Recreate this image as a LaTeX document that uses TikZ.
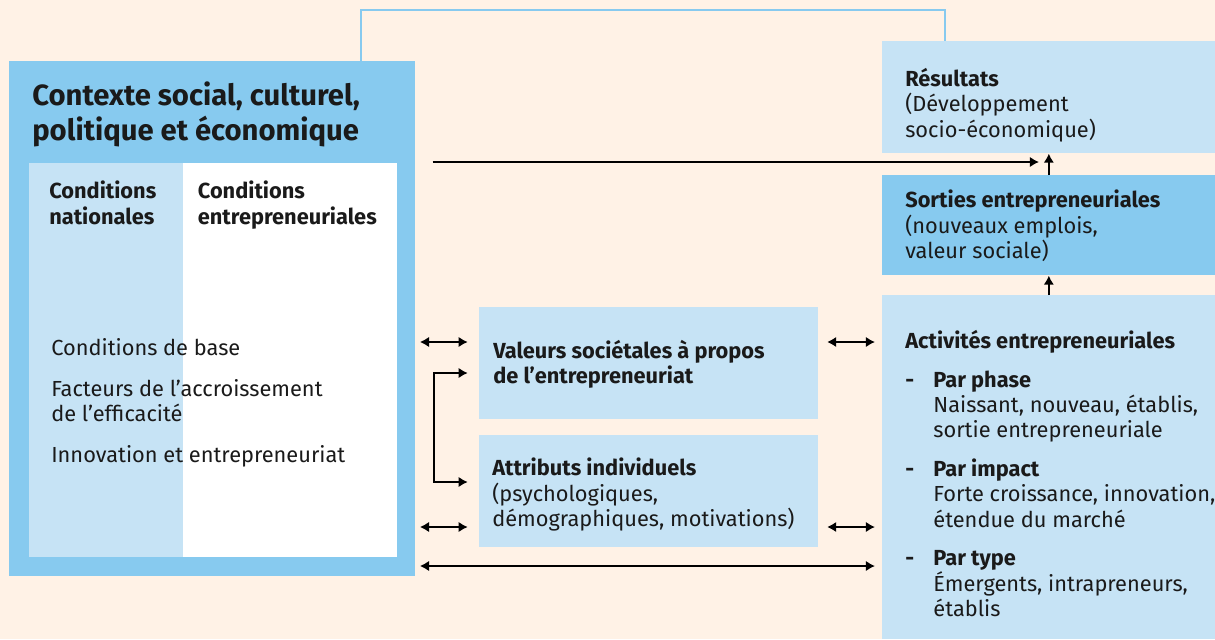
\documentclass[tikz,border=0pt]{standalone}
\usepackage{fontspec}
\setmainfont{Fira Sans}
\usepackage{tikz}
\usetikzlibrary{arrows.meta, positioning, calc}
\definecolor{cream}{HTML}{FFF2E6}
\definecolor{skyblue}{HTML}{87CAEF}
\definecolor{paleblue}{HTML}{C6E3F5}
\definecolor{ink}{HTML}{1A1A1A}

\begin{document}
\begin{tikzpicture}[x=0.025cm, y=-0.025cm, font=\fontsize{15.5}{18}\selectfont, text=ink]
    % Styles
    \tikzstyle{box} = [rectangle, inner sep=0pt, anchor=north west]
    \tikzstyle{pale} = [box, fill=paleblue]
    \tikzstyle{sky} = [box, fill=skyblue]
    \tikzstyle{txt} = [align=left, inner sep=0pt, anchor=north west]
    \tikzstyle{dbl} = [{Latex[length=6.5pt,width=7.5pt]}-{Latex[length=6.5pt,width=7.5pt]}, line width=1.4pt]
    \tikzstyle{sgl} = [-{Latex[length=6.5pt,width=7.5pt]}, line width=1.4pt]
    \tikzstyle{feedback} = [draw=skyblue, line width=1.6pt]

    \useasboundingbox (0,0) rectangle (1215,639);
    \fill[cream] (0,0) rectangle (1215,639);

    % Context block
    \node[sky, minimum width=10.15cm, minimum height=12.875cm] at (9,61) (ctx) {};
    \node[box, fill=white, minimum width=9.2cm, minimum height=9.85cm] at (29,163) (cond) {};
    \node[pale, minimum width=3.85cm, minimum height=9.85cm] at (29,163) (natcol) {};
    \node[txt, font=\fontsize{20.8}{25}\selectfont\bfseries, below right=0.52cm and 0.575cm of ctx.north west] (title)
        {Contexte social, culturel,\\politique et économique};
    \node[txt, font=\fontsize{15.5}{18}\selectfont\bfseries, below right=0.45cm and 0.5cm of cond.north west] (nat)
        {Conditions\\nationales};
    \node[txt, font=\fontsize{15.5}{18}\selectfont\bfseries, below right=0.45cm and 0.35cm of natcol.north east] (ent)
        {Conditions\\entrepreneuriales};
    \node[txt, below right=4.38cm and 0.55cm of cond.north west] (list)
        {Conditions de base\\[11pt]
         Facteurs de l’accroissement\\de l’efficacité\\[11pt]
         Innovation et entrepreneuriat};

    % Middle blocks
    \node[pale, minimum width=8.475cm, minimum height=2.8cm] at (479,307) (val) {};
    \node[pale, minimum width=8.475cm, minimum height=2.8cm] at (479,435) (att) {};
    \node[txt, below right=0.825cm and 0.35cm of val.north west] (valtxt)
        {\textbf{Valeurs sociétales à propos}\\\textbf{de l’entrepreneuriat}};
    \node[txt, below right=0.575cm and 0.325cm of att.north west] (atttxt)
        {\textbf{Attributs individuels}\\(psychologiques,\\démographiques, motivations)};

    % Right blocks
    \node[pale, minimum width=8.325cm, minimum height=2.8cm] at (882,41) (res) {};
    \node[sky, minimum width=8.325cm, minimum height=2.5cm] at (882,175) (sor) {};
    \node[pale, minimum width=8.325cm, minimum height=8.6cm] at (882,295) (act) {};
    \node[txt, below right=0.675cm and 0.575cm of res.north west] (restxt)
        {\textbf{Résultats}\\(Développement\\socio-économique)};
    \node[txt, below right=0.375cm and 0.575cm of sor.north west] (sortxt)
        {\textbf{Sorties entrepreneuriales}\\(nouveaux emplois,\\valeur sociale)};
    \node[txt, below right=0.875cm and 0.575cm of act.north west] (acttxt)
        {\textbf{Activités entrepreneuriales}\\[9.5pt]
         \makebox[20pt][l]{\textbf{-}}\textbf{Par phase}\\
         \hspace*{20pt}Naissant, nouveau, établis,\\
         \hspace*{20pt}sortie entrepreneuriale\\[9.5pt]
         \makebox[20pt][l]{\textbf{-}}\textbf{Par impact}\\
         \hspace*{20pt}Forte croissance, innovation,\\
         \hspace*{20pt}étendue du marché\\[9.5pt]
         \makebox[20pt][l]{\textbf{-}}\textbf{Par type}\\
         \hspace*{20pt}Émergents, intrapreneurs,\\
         \hspace*{20pt}établis};

    % Connections
    \draw[feedback] (ctx.north -| 361,0) -- (361,10) -| (res.north -| 945,0);
    \draw[sgl] ([xshift=12pt]ctx.east |- 0,162) -- ([xshift=-7pt]res.south |- 0,162);
    \draw[sgl] (sor) -- (res);
    \draw[sgl] (act) -- (sor);
    \draw[dbl] ([xshift=3pt]ctx.east |- 0,342) -- ([xshift=-8pt]val.west |- 0,342);
    \draw[dbl] ([xshift=3pt]ctx.east |- 0,527) -- ([xshift=-8pt]att.west |- 0,527);
    \draw[dbl] ([xshift=-8pt]val.west |- 0,373) -- (434,373) -- (434,482) -- ([xshift=-8pt]att.west |- 0,482);
    \draw[dbl] ([xshift=6pt]val.east |- 0,342) -- ([xshift=-5pt]act.west |- 0,342);
    \draw[dbl] ([xshift=6pt]att.east |- 0,527) -- ([xshift=-5pt]act.west |- 0,527);
    \draw[dbl] ([xshift=3pt]ctx.east |- 0,566) -- ([xshift=-5pt]act.west |- 0,566);
\end{tikzpicture}
\end{document}
